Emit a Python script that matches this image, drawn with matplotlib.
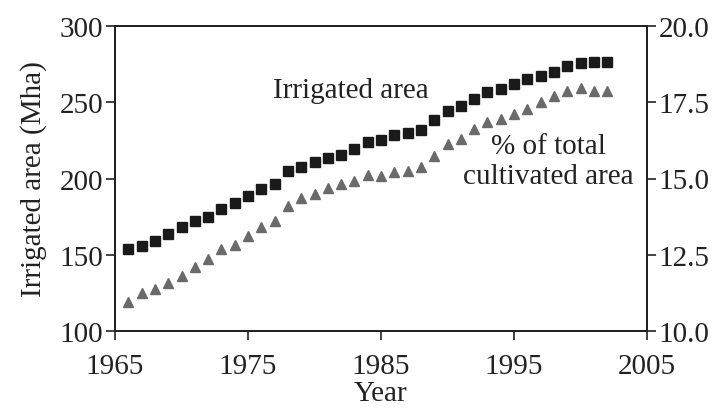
import matplotlib
matplotlib.use("Agg")
import matplotlib.pyplot as plt

years = list(range(1966, 2003))
irrigated_area = [153.8, 155.9, 159.2, 163.4, 168.0, 171.9, 174.6, 180.0, 183.7, 188.3,
                  193.1, 196.4, 204.7, 207.3, 210.6, 213.2, 215.4, 219.3, 223.7, 225.2,
                  228.5, 229.8, 232.0, 238.4, 244.5, 247.8, 252.1, 256.5, 258.7, 262.0,
                  265.2, 267.4, 270.0, 274.0, 275.7, 276.6, 276.6]
pct_cultivated = [10.96, 11.24, 11.38, 11.57, 11.81, 12.09, 12.36, 12.69, 12.82, 13.12,
                  13.40, 13.62, 14.11, 14.35, 14.49, 14.68, 14.82, 14.93, 15.12, 15.09,
                  15.20, 15.26, 15.37, 15.75, 16.13, 16.30, 16.62, 16.84, 16.95, 17.11,
                  17.28, 17.50, 17.72, 17.88, 17.96, 17.88, 17.88]
x_ticks = [1965, 1975, 1985, 1995, 2005]
left_ticks = [100, 150, 200, 250, 300]
right_ticks = [10.0, 12.5, 15.0, 17.5, 20.0]

plt.rcParams['font.family'] = ['Liberation Serif', 'DejaVu Serif']
fs = 21
W, H = 719, 414

fig = plt.figure(figsize=(W/100, H/100), dpi=100)
ax = fig.add_axes([115/W, (H-332)/H, 532/W, 305/H])
ax2 = ax.twinx()

ax.plot(years, irrigated_area, linestyle='none', marker='s', markersize=6.5,
        color='#1a1a1a')
ax2.plot(years, pct_cultivated, linestyle='none', marker='^', markersize=7,
         color='#6a6a6a')

ax.set_xlim(1965, 2005)
ax.set_ylim(100, 300)
ax2.set_ylim(10, 20)
ax.set_xticks(x_ticks)
ax.set_yticks(left_ticks)
ax2.set_yticks(right_ticks)
ax2.set_yticklabels([f"{v:.1f}" for v in right_ticks])

for a in (ax, ax2):
    for s in a.spines.values():
        s.set_linewidth(1.4)
        s.set_color('#222222')
    a.tick_params(direction='out', length=6.5, width=1.2, colors='#222222',
                  labelsize=fs, pad=2)
ax.tick_params(axis='x', pad=9)

ax.set_xlabel('Year', fontsize=fs, color='#222222', labelpad=1)
ax.set_ylabel('Irrigated area (Mha)', fontsize=fs, color='#222222', labelpad=9)

ax.text(351, H-91, 'Irrigated area', transform=None, fontsize=fs,
        ha='center', va='center', color='#222222')
ax.text(548, H-162, '% of total\ncultivated area', transform=None, fontsize=fs,
        ha='center', va='center', color='#222222', linespacing=1.2)

fig.savefig('out.png', dpi=100)
